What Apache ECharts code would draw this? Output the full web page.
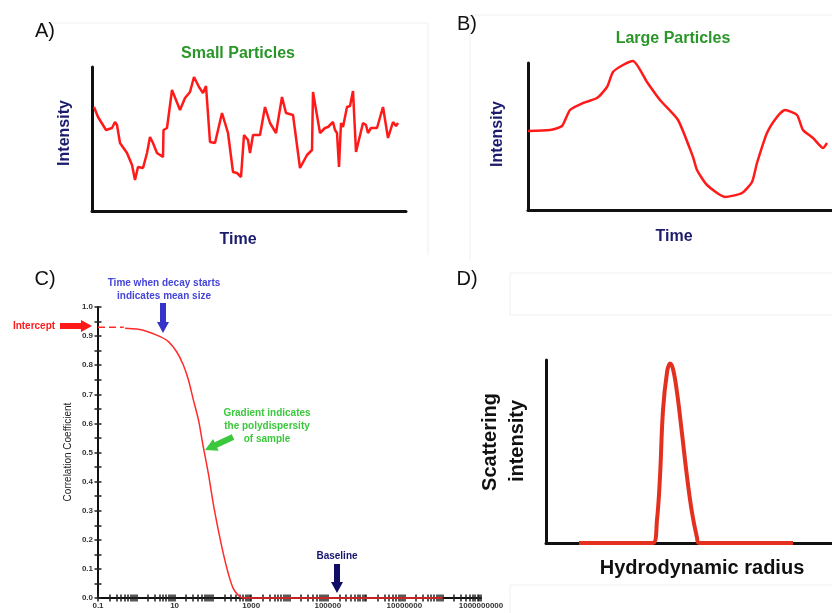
<!DOCTYPE html>
<html>
<head>
<meta charset="utf-8">
<script src="https://cdn.jsdelivr.net/npm/echarts@6/dist/echarts.min.js"></script>
<style>html,body{margin:0;padding:0;background:#fff}#c{width:832px;height:613px}</style>
</head>
<body>
<div id="c"></div>
<script>
// ---- Panel A: small particles (time, intensity) ----
const aTime = [2,6,14,20,23,25,28,35,40,43,46,51,55,58,61,65,71,71.5,75,80,88,93,98,102,107,111,114,118,123,130,136,141,145,149,152,156,158,161,168,173,178,184,190,194,201,208,215,220,221,228,233,236,241,243,245,247,249,251,255,258,261,264,271,274,276,279,285,291,296,301,304,306];
const aIntensity = [104,94,81,83,89,86,68,58,46,31,44,43,58,74,68,58,54,81,83,121,101,113,119,134,124,118,125,69,68,98,78,39,38,34,76,71,58,76,76,104,88,78,114,98,96,43,56,61,119,78,83,84,89,81,78,44,88,84,104,105,120,59,88,86,78,83,83,104,73,89,85,88];
// ---- Panel B: large particles ----
const bTime = [0,22,34,42,55,69,79,85,95,105,119,132,150,165,169,179,197,214,224,229,239,249,257,269,275,285,295,299];
const bIntensity = [79,80,84,100,107,112,123,138,145,149,128,110,90,53,40,25,13,17,28,47,77,93,100,95,80,72,62,67];
// ---- Panel C: correlation function ----
const cTime = [0.51,1.02,2.0,4.2,6.9,11.2,17,23,31,42,56,76,102,138,186,251,339,457,617,1e8];
const cCorr = [0.927,0.924,0.915,0.898,0.881,0.847,0.80,0.749,0.68,0.612,0.52,0.428,0.325,0.234,0.154,0.085,0.033,0.01,0.0,0.0];
const cInterceptTime = [0.1,0.47];
const cInterceptCorr = [0.93,0.93];
const cXLabels = [0.1,10,1000,100000,10000000,1000000000];
const cYLabels = [0,0.1,0.2,0.3,0.4,0.5,0.6,0.7,0.8,0.9,1.0];
const cYTicks = [0,0.05,0.1,0.15,0.2,0.25,0.3,0.35,0.4,0.45,0.5,0.55,0.6,0.65,0.7,0.75,0.8,0.85,0.9,0.95,1.0];
const cXTicks = [];
for (let n = -1; n <= 8; n++) { for (let k = 1; k <= 9; k++) cXTicks.push(k * Math.pow(10, n)); }
cXTicks.push(1e9);
// ---- Panel D: size distribution ----
const dRadius = [33,107,111,114,117,121,124,127,131,136,141,146,151,153,247];
const dIntensity = [0,0,0.13,0.37,0.74,0.95,1.0,0.97,0.84,0.61,0.37,0.17,0.03,0,0];

const FONT = '"Liberation Sans", Arial, Helvetica, sans-serif';
function zip(xs, ys){ return xs.map((x,i)=>[x, ys[i]]); }
function txt(text, x, y, size, color, weight, rot){
  return {type:'text', x:x, y:y, rotation: rot||0, z:100,
    style:{text:text, x:0, y:0, fill:color, font: weight+' '+size+'px '+FONT,
      align:'center', verticalAlign:'middle', textAlign:'center', textVerticalAlign:'middle'}};
}
function arrow(tail, tip, sw, hl, hw, color){
  const dx = tip[0]-tail[0], dy = tip[1]-tail[1];
  const L = Math.sqrt(dx*dx+dy*dy); const ux = dx/L, uy = dy/L; const nx = -uy, ny = ux;
  const bx = tip[0]-ux*hl, by = tip[1]-uy*hl;
  const p = [
    [tail[0]+nx*sw/2, tail[1]+ny*sw/2],[bx+nx*sw/2, by+ny*sw/2],[bx+nx*hw/2, by+ny*hw/2],
    tip,[bx-nx*hw/2, by-ny*hw/2],[bx-nx*sw/2, by-ny*sw/2],[tail[0]-nx*sw/2, tail[1]-ny*sw/2]];
  return {type:'polygon', z:100, shape:{points:p}, style:{fill:color}};
}
function faint(points){
  return {type:'polyline', z:0, shape:{points:points}, style:{stroke:'#efefef', lineWidth:1, fill:null}};
}

const blackLine = {show:true, lineStyle:{color:'#111', width:3}};
function plainX(grid, max){ return {type:'value', gridIndex:grid, position:'bottom', min:0, max:max, axisLine:blackLine, axisTick:{show:false}, axisLabel:{show:false}, splitLine:{show:false}}; }
function plainY(grid, max){ return {type:'value', gridIndex:grid, position:'left', min:0, max:max, axisLine:blackLine, axisTick:{show:false}, axisLabel:{show:false}, splitLine:{show:false}}; }

const tickStyle = {color:'#222', width:1.5};
const labelStyle = {fontSize:8, fontWeight:'bold', color:'#333', fontFamily:FONT};

const option = {
  animation:false,
  backgroundColor:'#fff',
  grid:[
    {left:92, top:67, width:314, height:144, outerBoundsMode:'none'},
    {left:528, top:63, width:304, height:147, outerBoundsMode:'none'},
    {left:98, top:307, width:383, height:291, outerBoundsMode:'none'},
    {left:546, top:360, width:286, height:183, outerBoundsMode:'none'}
  ],
  xAxis:[
    plainX(0, 314),
    plainX(1, 304),
    {type:'log', logBase:10, gridIndex:2, position:'bottom', min:0.1, max:1e9,
      axisLine:{show:true, lineStyle:{color:'#111', width:2}},
      axisTick:{show:true, customValues:cXTicks, length:3.5, lineStyle:tickStyle},
      axisLabel:Object.assign({show:true, customValues:cXLabels, margin:4,
        formatter:function(v){ return v < 1 ? '0.1' : String(Math.round(v)); }}, labelStyle),
      splitLine:{show:false}, minorTick:{show:false}, minorSplitLine:{show:false}},
    {type:'log', logBase:10, gridIndex:2, position:'bottom', min:0.1, max:1e9,
      axisLine:{show:false},
      axisTick:{show:true, inside:true, customValues:cXTicks, length:3.5, lineStyle:tickStyle},
      axisLabel:{show:false}, splitLine:{show:false}},
    plainX(3, 286)
  ],
  yAxis:[
    plainY(0, 144),
    plainY(1, 147),
    {type:'value', gridIndex:2, position:'left', min:0, max:1,
      axisLine:{show:true, lineStyle:{color:'#111', width:2}},
      axisTick:{show:true, customValues:cYTicks, length:3.5, lineStyle:tickStyle},
      axisLabel:Object.assign({show:true, customValues:cYLabels, margin:5,
        formatter:function(v){ return Number(v).toFixed(1); }}, labelStyle),
      splitLine:{show:false}},
    {type:'value', gridIndex:2, position:'left', min:0, max:1,
      axisLine:{show:false},
      axisTick:{show:true, inside:true, customValues:cYTicks, length:3.5, lineStyle:tickStyle},
      axisLabel:{show:false}, splitLine:{show:false}},
    plainY(3, 1.02)
  ],
  series:[
    {type:'line', xAxisIndex:0, yAxisIndex:0, data:zip(aTime, aIntensity), symbol:'none', clip:false,
      lineStyle:{color:'#ff1a1a', width:2.5}},
    {type:'line', xAxisIndex:1, yAxisIndex:1, data:zip(bTime, bIntensity), symbol:'none', clip:false, smooth:0.2,
      lineStyle:{color:'#ff1a1a', width:2.5}},
    {type:'line', xAxisIndex:2, yAxisIndex:2, data:zip(cInterceptTime, cInterceptCorr), symbol:'none', clip:false,
      lineStyle:{color:'#ff2a2a', width:1.5, type:[7,4]}},
    {type:'line', xAxisIndex:2, yAxisIndex:2, data:zip(cTime, cCorr), symbol:'none', clip:false, smooth:0.3, z:3,
      lineStyle:{color:'#ff2a2a', width:1.5}},
    {type:'line', xAxisIndex:4, yAxisIndex:4, data:zip(dRadius, dIntensity), symbol:'none', clip:false, smooth:0.4, z:5,
      lineStyle:{color:'#e3301f', width:4}}
  ],
  graphic:[
    faint([[53,23],[428,23],[428,255]]),
    faint([[470,260],[470,15],[832,15]]),
    faint([[510,315],[510,273],[832,273]]),
    faint([[510,315],[832,315]]),
    faint([[510,613],[510,585],[832,585]]),
    // panel letters
    txt('A)', 45, 31, 20, '#111', 'normal'),
    txt('B)', 467, 24, 20, '#111', 'normal'),
    txt('C)', 45, 279, 20, '#111', 'normal'),
    txt('D)', 467, 279, 20, '#111', 'normal'),
    // A
    txt('Small Particles', 238, 54, 16, '#2a962a', 'bold'),
    txt('Intensity', 65, 133, 16, '#1c1c6e', 'bold', Math.PI/2),
    txt('Time', 238, 240, 16, '#1c1c6e', 'bold'),
    // B
    txt('Large Particles', 673, 39, 16, '#2a962a', 'bold'),
    txt('Intensity', 498, 134, 16, '#1c1c6e', 'bold', Math.PI/2),
    txt('Time', 674, 237, 16, '#1c1c6e', 'bold'),
    // C
    txt('Correlation Coefficient', 68, 452, 10, '#222', 'normal', Math.PI/2),
    txt('Time when decay starts', 164, 283, 10, '#4545d8', 'bold'),
    txt('indicates mean size', 164, 296, 10, '#4545d8', 'bold'),
    arrow([163,303],[163,333], 6, 11, 12, '#3434c8'),
    txt('Intercept', 34, 326, 10, '#ff1a1a', 'bold'),
    arrow([60,326],[92,326], 6, 11, 12, '#ff1a1a'),
    txt('Gradient indicates', 267, 413, 10, '#3cc83c', 'bold'),
    txt('the polydispersity', 267, 426, 10, '#3cc83c', 'bold'),
    txt('of sample', 267, 439, 10, '#3cc83c', 'bold'),
    arrow([233,437],[205,450], 6, 12, 13, '#3cc83c'),
    txt('Baseline', 337, 556, 10, '#14146e', 'bold'),
    arrow([337,564],[337,593], 6, 11, 12, '#0e0e66'),
    // D
    txt('Scattering', 490, 442, 20, '#111', 'bold', Math.PI/2),
    txt('intensity', 517, 441, 20, '#111', 'bold', Math.PI/2),
    txt('Hydrodynamic radius', 702, 568, 20, '#111', 'bold')
  ]
};
const chart = echarts.init(document.getElementById('c'), null, {renderer:'canvas'});
chart.setOption(option);
</script>
</body>
</html>
